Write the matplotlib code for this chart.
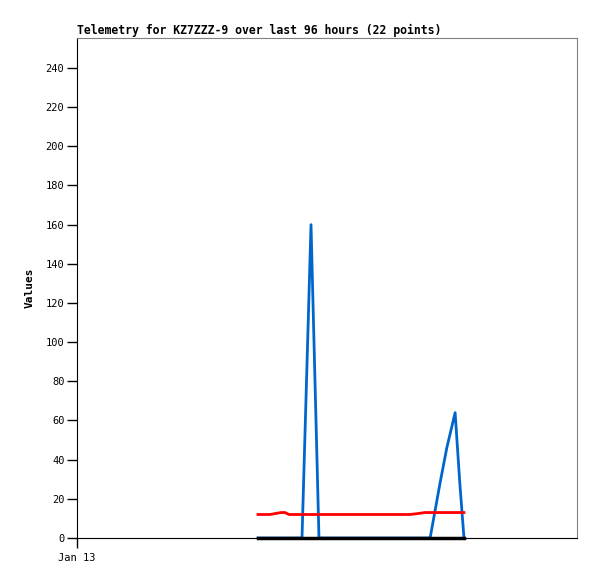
import matplotlib
matplotlib.use("Agg")
import matplotlib.pyplot as plt

# hours since the left edge (Jan 13), 96 hour window
hours = [34.75, 37.06, 39.17, 39.94, 40.70, 43.20, 44.93, 46.46, 50.50, 53.40, 56.30,
         59.10, 62.00, 63.90, 65.50, 66.80, 67.80, 69.70, 71.00, 72.60, 73.50, 74.30]
blue = [0, 0, 0, 0, 0, 0, 160, 0, 0, 0, 0, 0, 0, 0, 0, 0, 0, 28, 46, 64, 28, 0]
red = [12, 12, 13, 13, 12, 12, 12, 12, 12, 12, 12, 12, 12, 12, 12.5, 13, 13, 13, 13, 13, 13, 13]
black = [0] * 22
xtick_pos = [0]
xtick_labels = ["Jan 13"]
yticks = list(range(0, 241, 20))

fig = plt.figure(figsize=(5.97, 5.79), dpi=100)
ax = fig.add_axes([77 / 597, 41 / 579, 500 / 597, 500 / 579])

ax.plot(hours, blue, color="#0066cc", lw=2)
ax.plot(hours, red, color="#ff0000", lw=2)
ax.plot(hours, black, color="#000000", lw=2.5, clip_on=False)

ax.set_xlim(0, 96)
ax.set_ylim(0, 255.3)
ax.set_xticks(xtick_pos)
ax.set_xticklabels(xtick_labels)
ax.set_yticks(yticks)
for lab in ax.get_xticklabels() + ax.get_yticklabels():
    lab.set_family("DejaVu Sans Mono")
    lab.set_fontsize(7.5)
ax.tick_params(length=7, width=1, color="black", pad=2)
ax.tick_params(axis="x", pad=4)
ax.spines["top"].set_color("#808080")
ax.spines["right"].set_color("#808080")

ax.set_ylabel("Values", family="DejaVu Sans Mono", fontweight="bold", fontsize=8, labelpad=8)
ax.set_title("Telemetry for KZ7ZZZ-9 over last 96 hours (22 points)",
             family="DejaVu Sans Mono", fontweight="bold", fontsize=8.3, loc="left", pad=3)

fig.savefig("out.png", dpi=100)
